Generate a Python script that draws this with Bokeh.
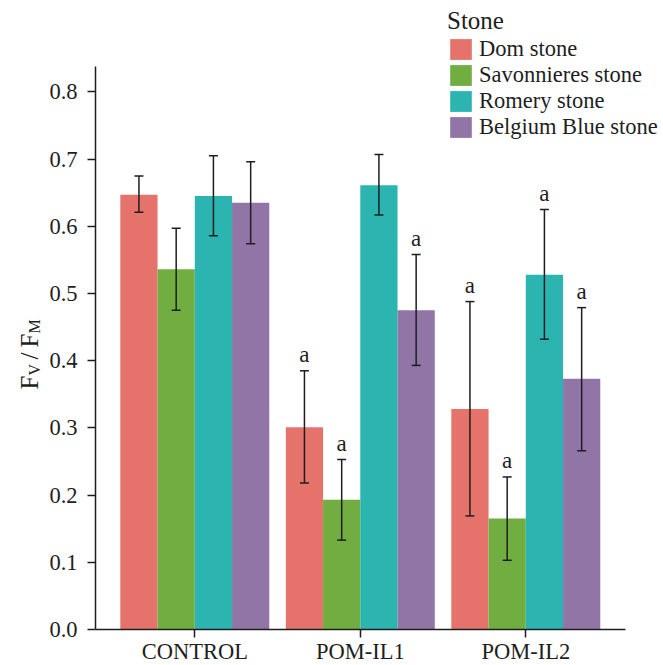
import math
from bokeh.plotting import figure
from bokeh.models import (Range1d, Whisker, TeeHead, ColumnDataSource,
                          Label, FixedTicker, NumeralTickFormatter, Legend, LegendItem)
from bokeh.transform import dodge
from bokeh.core.properties import value
from bokeh.embed import file_html
from bokeh.resources import INLINE

# ---------------- data ----------------
groups = ["CONTROL", "POM-IL1", "POM-IL2"]
stones = ["Dom stone", "Savonnieres stone", "Romery stone", "Belgium Blue stone"]
colors = ["#E5736B", "#72AD42", "#2CB4B1", "#9275A7"]

dom_mean = [0.647, 0.301, 0.328]
dom_lo = [0.621, 0.218, 0.169]
dom_hi = [0.675, 0.385, 0.488]
dom_sig = ["", "a", "a"]

sav_mean = [0.536, 0.193, 0.165]
sav_lo = [0.475, 0.133, 0.103]
sav_hi = [0.597, 0.253, 0.227]
sav_sig = ["", "a", "a"]

rom_mean = [0.645, 0.661, 0.528]
rom_lo = [0.586, 0.617, 0.432]
rom_hi = [0.705, 0.707, 0.625]
rom_sig = ["", "", "a"]

bel_mean = [0.635, 0.475, 0.373]
bel_lo = [0.574, 0.393, 0.266]
bel_hi = [0.696, 0.558, 0.479]
bel_sig = ["", "a", "a"]

y_ticks = [0.0, 0.1, 0.2, 0.3, 0.4, 0.5, 0.6, 0.7, 0.8]
y_axis_top = 0.838

series = [
    (dom_mean, dom_lo, dom_hi, dom_sig),
    (sav_mean, sav_lo, sav_hi, sav_sig),
    (rom_mean, rom_lo, rom_hi, rom_sig),
    (bel_mean, bel_lo, bel_hi, bel_sig),
]

FONT = "Liberation Serif"
INK = "#1e1e1e"

W, H = 662, 664
px_per_x = 165.5          # pixels per category step
px_per_y = 672.0          # pixels per unit of Fv/Fm
left_px = 95              # canvas x of the y axis
bottom_px = H - 629       # canvas px below y = 0
x_lo_axis = -0.6
x_start = x_lo_axis - left_px / px_per_x
y_start = -bottom_px / px_per_y

p = figure(width=W, height=H,
           x_range=Range1d(x_start, x_start + W / px_per_x),
           y_range=Range1d(y_start, y_start + H / px_per_y),
           output_backend="svg", toolbar_location=None,
           min_border=0)
p.outline_line_color = None
p.xgrid.visible = False
p.ygrid.visible = False
p.background_fill_color = "white"

pos = list(range(len(groups)))
bar_w = 0.225
offsets = [-1.5 * bar_w, -0.5 * bar_w, 0.5 * bar_w, 1.5 * bar_w]

items = []
for (mean, lo, hi, sig), off, col, name in zip(series, offsets, colors, stones):
    src = ColumnDataSource(dict(pos=pos, mean=mean, lo=lo, hi=hi, sig=sig))
    xs = dodge("pos", off)
    r = p.vbar(x=xs, top="mean", width=bar_w, source=src,
               fill_color=col, line_color=None)
    items.append(LegendItem(label=name, renderers=[r]))
    w = Whisker(base=xs, upper="hi", lower="lo", source=src, level="overlay",
                line_color=INK, line_width=1.5,
                upper_head=TeeHead(size=9, line_color=INK, line_width=1.5),
                lower_head=TeeHead(size=9, line_color=INK, line_width=1.5))
    p.add_layout(w)
    p.text(x=xs, y="hi", text="sig", source=src, text_align="center",
           text_baseline="alphabetic", y_offset=-16,
           text_font=value(FONT), text_font_size="23px", text_color=INK)

legend = Legend(items=items, location=(447, H - 140), title="Stone",
                title_text_font=FONT, title_text_font_size="25px",
                title_text_font_style="normal", title_text_color=INK, title_standoff=1,
                label_text_font=FONT, label_text_font_size="22.5px", label_text_color=INK,
                glyph_width=27, glyph_height=26, label_height=22, spacing=0,
                label_standoff=5, padding=0, margin=0,
                border_line_color=None, background_fill_alpha=0)
p.add_layout(legend, "center")

for ax in (p.xaxis, p.yaxis):
    ax.axis_line_color = INK
    ax.axis_line_width = 1.5
    ax.major_tick_line_color = INK
    ax.major_tick_line_width = 1.5
    ax.major_tick_out = 8
    ax.major_tick_in = 0
    ax.minor_tick_line_color = None
    ax.major_label_text_font = FONT
    ax.major_label_text_font_size = "22.5px"
    ax.major_label_text_color = INK

p.xaxis.fixed_location = 0
p.xaxis.bounds = (x_lo_axis, len(groups) - 1 - x_lo_axis)
p.xaxis.ticker = FixedTicker(ticks=pos)
p.xaxis.major_label_overrides = {i: g for i, g in zip(pos, groups)}
p.xaxis.major_label_standoff = 1

p.yaxis.fixed_location = x_lo_axis
p.yaxis.bounds = (0, y_axis_top)
p.yaxis.ticker = FixedTicker(ticks=y_ticks)
p.yaxis.formatter = NumeralTickFormatter(format="0.0")
p.yaxis.major_label_standoff = 10

# y-axis label  F_V / F_M  (built from pieces to get subscripts)
base_y = H - 389
lab_x = 29
pieces = [("F", 0, 0, "25px"), ("V", 14, 5, "16px"), ("/", 30, 0, "25px"),
          ("F", 42, 0, "25px"), ("M", 56, 5, "16px")]
for t, dy, dx, fs in pieces:
    p.add_layout(Label(x=lab_x + dx, y=base_y + dy, x_units="screen", y_units="screen",
                       text=t, angle=math.pi / 2, text_align="left",
                       text_baseline="alphabetic", text_font=FONT,
                       text_font_size=fs, text_color=INK))

open("out.html", "w").write(file_html(p, INLINE))
